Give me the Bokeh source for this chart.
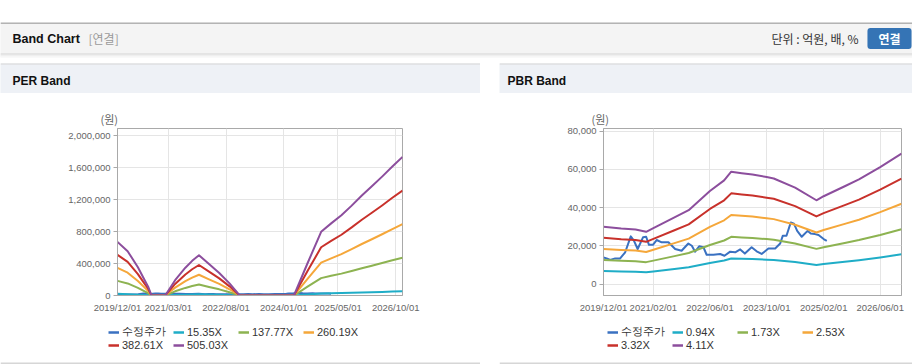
import pandas as pd
from bokeh.plotting import figure
from bokeh.layouts import column, row
from bokeh.models import (Range1d, FixedTicker, NumeralTickFormatter, DatetimeTickFormatter,
                          Legend, LegendItem, Label, Span, Spacer, BoxAnnotation)
from bokeh.embed import file_html
from bokeh.resources import INLINE

# ---------------- data ----------------
price_label = "수정주가"
price_dates = ["2019-12-01", "2019-12-28", "2020-01-28", "2020-03-10", "2020-04-22", "2020-06-04",
               "2020-07-22", "2020-08-19", "2020-09-19", "2020-11-04", "2020-12-01", "2020-12-25",
               "2021-01-28", "2021-03-01", "2021-04-13", "2021-06-10", "2021-08-07", "2021-10-01",
               "2021-11-28", "2021-12-28", "2022-01-25", "2022-03-01", "2022-04-07", "2022-05-04",
               "2022-07-01", "2022-08-28", "2022-10-04", "2022-11-22", "2023-01-04", "2023-02-16",
               "2023-03-28", "2023-05-25", "2023-07-07", "2023-08-19", "2023-10-16", "2023-12-13",
               "2024-01-25", "2024-02-16", "2024-03-19", "2024-04-25", "2024-05-22", "2024-06-19",
               "2024-07-28", "2024-09-16", "2024-10-13", "2024-11-19", "2024-12-19", "2025-02-01",
               "2025-02-28"]
price_values = [14000, 13500, 12700, 13500, 13500, 16700,
                25000, 22700, 18400, 24500, 24800, 20600,
                20600, 23100, 21900, 21900, 18400, 17500,
                21300, 20100, 17000, 19800, 19300, 15400,
                15400, 15800, 14900, 17000, 16700, 18200,
                16000, 19300, 17200, 15800, 18700, 18700,
                21300, 25300, 25300, 32300, 31700, 27900,
                24800, 27900, 26500, 26200, 25700, 23600,
                22700]

per_dates = ["2019-12-01", "2020-03-01", "2020-06-01", "2020-08-01", "2020-09-01", "2020-10-01",
             "2021-02-01", "2021-05-01", "2021-08-01", "2021-10-01", "2021-12-01", "2022-03-01",
             "2022-06-01", "2022-09-01", "2022-12-01", "2023-08-01", "2024-04-01", "2024-08-01",
             "2024-12-01", "2025-03-01", "2025-06-01", "2025-09-01", "2025-12-01", "2026-03-01",
             "2026-06-01", "2026-09-01", "2026-12-01"]
per_labels = ["15.35X", "137.77X", "260.19X", "382.61X", "505.03X"]
per_band_1 = [20416, 16885, 10745, 5833, 3377, 0, 0, 5833, 10592, 13201, 15350, 11973, 8596, 4605,
              0, 0, 0, 12280, 24253, 27477, 30547, 34231, 38068, 41599, 45283, 49120, 52789]
per_band_2 = [183234, 151547, 96439, 52353, 30309, 0, 0, 52353, 95061, 118482, 137770, 107461, 77151,
              41331, 0, 0, 0, 110216, 217677, 246608, 274162, 307227, 341670, 373357, 406422, 440864,
              473791]
per_band_3 = [346053, 286209, 182133, 98872, 57242, 0, 0, 98872, 179531, 223763, 260190, 202948,
              145706, 78057, 0, 0, 0, 208152, 411100, 465740, 517778, 580224, 645271, 705115, 767561,
              832608, 894793]
per_band_4 = [508871, 420871, 267827, 145392, 84174, 0, 0, 145392, 264001, 329045, 382610, 298436,
              214262, 114783, 0, 0, 0, 306088, 604524, 684872, 761394, 853220, 948873, 1036873,
              1128700, 1224352, 1315796]
per_band_5 = [671690, 555533, 353521, 191911, 111107, 0, 0, 191911, 348471, 434326, 505030, 393923,
              282817, 151509, 0, 0, 0, 404024, 797947, 904004, 1005010, 1126217, 1252474, 1368631,
              1489839, 1616096, 1736798]

pbr_dates = ["2019-12-01", "2020-05-01", "2020-09-01", "2020-12-01", "2021-02-01", "2021-08-01",
             "2021-12-01", "2022-06-01", "2022-10-01", "2022-12-01", "2023-03-01", "2023-06-01",
             "2023-10-01", "2023-12-01", "2024-06-01", "2024-12-01", "2025-02-01", "2025-08-01",
             "2025-12-01", "2026-06-01", "2026-12-01"]
pbr_labels = ["0.94X", "1.73X", "2.53X", "3.32X", "4.11X"]
pbr_band_1 = [6862, 6655, 6542, 6270, 6702, 7981, 8855, 11139, 12417, 13451, 13282, 13132, 12812,
              12643, 11553, 10039, 10519, 11712, 12530, 13997, 15623]
pbr_band_2 = [12629, 12248, 12041, 11539, 12335, 14688, 16297, 20501, 22853, 24756, 24445, 24168,
              23580, 23269, 21262, 18476, 19359, 21556, 23061, 25760, 28753]
pbr_band_3 = [18469, 17912, 17609, 16875, 18039, 21480, 23833, 29981, 33421, 36204, 35749, 35344,
              34484, 34029, 31094, 27020, 28311, 31524, 33725, 37672, 42049]
pbr_band_4 = [24236, 23506, 23107, 22144, 23672, 28187, 31274, 39342, 43857, 47509, 46912, 46380,
              45252, 44654, 40803, 35458, 37151, 41367, 44256, 49435, 55178]
pbr_band_5 = [30003, 29099, 28606, 27414, 29304, 34894, 38716, 48704, 54293, 58814, 58074, 57417,
              56019, 55280, 50512, 43895, 45991, 51211, 54786, 61198, 68308]

per_x_ticks = ["2019-12-01", "2021-03-01", "2022-08-01", "2024-01-01", "2025-05-01", "2026-10-01"]
pbr_x_ticks = ["2019-12-01", "2021-02-01", "2022-06-01", "2023-10-01", "2025-02-01", "2026-06-01"]
per_y_ticks = [0, 400000, 800000, 1200000, 1600000, 2000000]
pbr_y_ticks = [0, 20000, 40000, 60000, 80000]
x_start, x_end = "2019-12-01", "2026-12-01"

colors = ["#3a71c1", "#1fadc7", "#8db351", "#f5a73a", "#c8312b", "#8c4e9d"]

# ---------------- styling helpers ----------------
SANS = "Liberation Sans"
KR = "Noto Sans CJK KR"
NAN = float("nan")


def deco_fig(w, h, bg, mb_top=0, mb_bottom=0):
    f = figure(width=w, height=h, output_backend="svg", toolbar_location=None,
               x_axis_location=None, y_axis_location=None, min_border=0,
               min_border_top=mb_top, min_border_bottom=mb_bottom,
               min_border_left=0, min_border_right=0,
               x_range=Range1d(0, w), y_range=Range1d(0, h - mb_top - mb_bottom))
    f.background_fill_color = bg
    f.border_fill_color = "#ffffff"
    f.outline_line_color = None
    f.grid.visible = False
    return f


def ms(dates):
    return list(pd.to_datetime(dates).astype("int64") // 10**6)


def chart(width, mb_left, mb_right, y_start, y_end, x_ticks, y_ticks,
          band_dates, bands, unit_offset):
    p = figure(width=width, height=225, output_backend="svg", toolbar_location=None,
               x_axis_type="datetime", min_border=0,
               min_border_left=mb_left, min_border_right=mb_right,
               min_border_top=35, min_border_bottom=23,
               x_range=Range1d(pd.Timestamp(x_start), pd.Timestamp(x_end)),
               y_range=Range1d(y_start, y_end))
    p.background_fill_color = "#ffffff"
    p.border_fill_color = "#ffffff"
    p.outline_line_color = "#a9a9a9"

    p.title.text = "(원)"
    p.title.align = "left"
    p.title.offset = unit_offset
    p.title.standoff = 4
    p.title.text_font = KR
    p.title.text_font_size = "11px"
    p.title.text_font_style = "normal"
    p.title.text_color = "#666666"

    p.xaxis.ticker = FixedTicker(ticks=ms(x_ticks))
    fmt = "%Y/%m/%d"
    p.xaxis.formatter = DatetimeTickFormatter(microseconds=fmt, milliseconds=fmt, seconds=fmt,
                                              minsec=fmt, minutes=fmt, hourmin=fmt, hours=fmt,
                                              days=fmt, months=fmt, years=fmt)
    p.yaxis.ticker = FixedTicker(ticks=y_ticks)
    p.yaxis.formatter = NumeralTickFormatter(format="0,0")
    for ax in (p.xaxis, p.yaxis):
        ax.axis_line_color = "#a9a9a9"
        ax.major_tick_line_color = "#a9a9a9"
        ax.minor_tick_line_color = None
        ax.major_label_text_color = "#666666"
        ax.major_label_text_font = SANS
        ax.major_label_text_font_size = "9.5px"
    p.xaxis.major_tick_out = 0
    p.xaxis.major_tick_in = 0
    p.xaxis.major_label_standoff = 6
    p.yaxis.major_tick_out = 4
    p.yaxis.major_tick_in = 0
    p.yaxis.major_label_standoff = 3
    p.grid.grid_line_color = "#e5e5e5"
    p.grid.grid_line_width = 1

    p.line(pd.to_datetime(price_dates), price_values, line_width=2, color=colors[0],
           line_join="round")
    bd = pd.to_datetime(band_dates)
    for vals, c in zip(bands, colors[1:]):
        p.line(bd, vals, line_width=2, color=c, line_join="round")
    return p


def legend_fig(width, band_labels):
    f = deco_fig(width, 46, "#ffffff")
    f.add_layout(Span(location=1, dimension="width", line_color="#d6d6d6", line_width=2))
    items = []
    for lab, c in zip([price_label] + band_labels, colors):
        # legend-only renderer (no visible points)
        r = f.line(x=[NAN], y=[NAN], line_width=2.5, color=c)
        items.append(LegendItem(label=lab, renderers=[r]))
    leg = Legend(items=items, location=(108, 13), orientation="horizontal", ncols=4,
                 padding=0, margin=0, spacing=0, glyph_width=11, glyph_height=12,
                 label_width=51, label_height=12, label_standoff=3,
                 label_text_font_size="11px", label_text_color="#333333",
                 label_text_font=SANS,
                 border_line_color=None, background_fill_alpha=0)
    f.add_layout(leg)
    return f


# ---------------- header ----------------
top = deco_fig(912, 63, "#f4f4f4", mb_top=22, mb_bottom=6)
top.add_layout(BoxAnnotation(bottom=0, top=4, fill_color="#ffffff", fill_alpha=1, line_color=None))
top.add_layout(Span(location=34.5, dimension="width", line_color="#b3b3b3", line_width=2))
top.add_layout(Span(location=3.5, dimension="width", line_color="#cfcfcf", line_width=1))
top.add_layout(Span(location=2.5, dimension="width", line_color="#e2e2e2", line_width=1))
top.add_layout(Span(location=1.5, dimension="width", line_color="#eeeeee", line_width=1))
top.add_layout(Span(location=0.5, dimension="width", line_color="#f7f7f7", line_width=1))
top.add_layout(Label(x=12, y=19, text="Band Chart", text_baseline="middle", text_font=SANS,
                     text_font_style="bold", text_font_size="12.5px", text_color="#111111"))
top.add_layout(Label(x=88, y=19, text="[연결]", text_baseline="middle", text_font=KR,
                     text_font_size="12px", text_color="#9a9a9a"))
top.add_layout(Label(x=858, y=19, text="단위 : 억원, 배, %", text_align="right",
                     text_baseline="middle", text_font=KR, text_font_size="12px",
                     text_color="#333333"))
top.add_layout(Label(x=889, y=19, text="연결", text_align="center", text_baseline="middle",
                     text_font=KR, text_font_style="bold", text_font_size="12px",
                     text_color="#ffffff", background_fill_color="#3574b5",
                     padding=dict(left=11, right=11, top=2, bottom=2), border_radius=3))

# ---------------- panels ----------------
per_head = deco_fig(480, 30, "#eef1f6")
per_head.add_layout(Span(location=30, dimension="width", line_color="#d5d5d5", line_width=2))
per_head.add_layout(Label(x=12, y=13, text="PER Band", text_baseline="middle", text_font=SANS,
                          text_font_style="bold", text_font_size="12px", text_color="#111111"))

pbr_head = deco_fig(413, 30, "#eef1f6")
pbr_head.add_layout(Span(location=30, dimension="width", line_color="#d5d5d5", line_width=2))
pbr_head.add_layout(Label(x=8, y=13, text="PBR Band", text_baseline="middle", text_font=SANS,
                          text_font_style="bold", text_font_size="12px", text_color="#111111"))

per_chart = chart(480, 117, 78, 0, 2093000, per_x_ticks, per_y_ticks, per_dates,
                  [per_band_1, per_band_2, per_band_3, per_band_4, per_band_5], -17)
pbr_chart = chart(413, 104, 11, -5909, 81414, pbr_x_ticks, pbr_y_ticks, pbr_dates,
                  [pbr_band_1, pbr_band_2, pbr_band_3, pbr_band_4, pbr_band_5], -12)

per_leg = legend_fig(480, per_labels)
pbr_leg = legend_fig(413, pbr_labels)

layout = column(top,
                row(per_head, Spacer(width=19, height=30), pbr_head),
                row(per_chart, Spacer(width=19, height=225), pbr_chart),
                row(per_leg, Spacer(width=19, height=46), pbr_leg))

open("out.html", "w").write(file_html(layout, INLINE))
